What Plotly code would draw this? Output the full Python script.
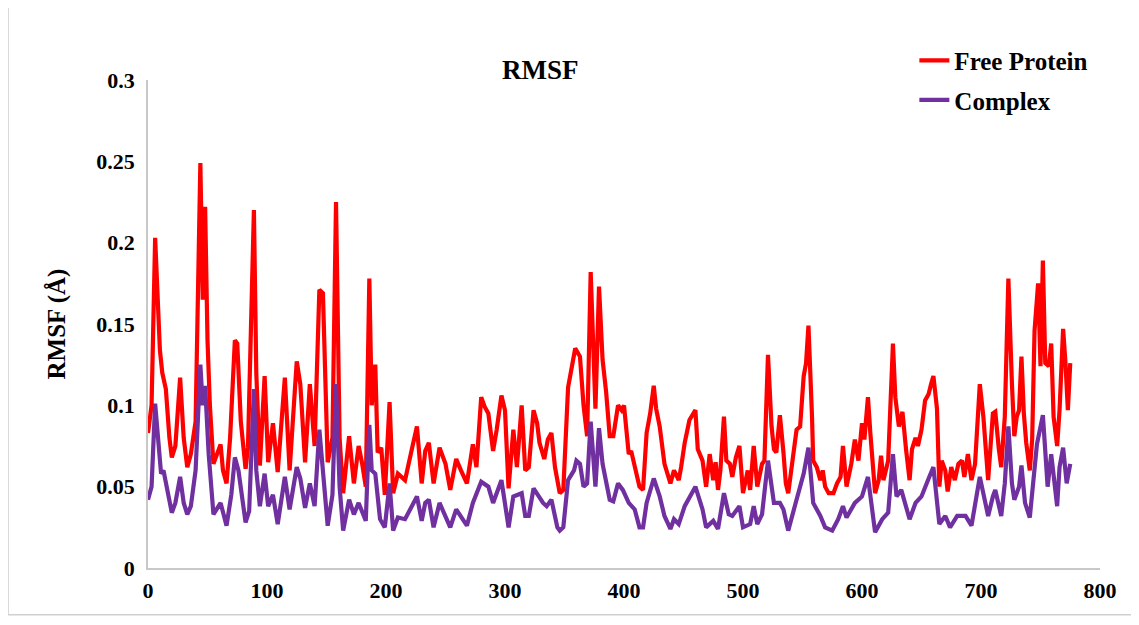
import plotly.graph_objects as go

# ---- data ----
free_res = [0, 3, 6, 8, 10, 12, 15, 18, 20, 23, 27, 30, 33, 36, 40, 44, 46, 48, 50, 52, 55, 58, 61, 63, 66, 69, 73, 75, 78, 82,
            84, 89, 91, 94, 98, 101, 105, 109, 115, 119, 125, 128, 132, 136, 140, 144, 147, 151, 155, 158, 161, 164, 169, 173,
            177, 180, 183, 186, 188, 191, 193, 196, 199, 203, 206, 210, 216, 222, 226, 230, 233, 236, 240, 245, 250, 254, 259,
            263, 268, 273, 276, 280, 283, 286, 290, 293, 297, 300, 303, 307, 310, 314, 317, 320, 324, 327, 329, 333, 336, 339,
            342, 346, 349, 353, 356, 359, 363, 366, 369, 372, 376, 379, 382, 385, 388, 391, 395, 398, 400, 402, 404, 406, 409,
            413, 416, 419, 422, 425, 427, 430, 434, 439, 442, 446, 448, 451, 455, 460, 462, 466, 469, 472, 475, 477, 479, 481,
            484, 486, 489, 491, 494, 497, 500, 504, 506, 509, 512, 516, 518, 521, 524, 526, 528, 531, 534, 536, 538, 541, 545,
            548, 551, 553, 555, 558, 559, 562, 565, 567, 569, 572, 576, 579, 582, 584, 587, 591, 594, 597, 600, 602, 605, 607,
            611, 614, 616, 618, 622, 626, 628, 631, 634, 637, 640, 642, 645, 647, 650, 653, 656, 658, 660, 663, 665, 667, 670,
            672, 675, 678, 681, 684, 686, 689, 692, 695, 699, 702, 704, 706, 710, 712, 715, 717, 720, 723, 726, 728, 730, 732,
            734, 736, 738, 741, 743, 745, 748, 750, 752, 754, 757, 759, 761, 764, 766, 769, 771, 773, 775]
free_rmsf = [0.083, 0.10, 0.203, 0.16, 0.134, 0.12, 0.11, 0.08, 0.068, 0.075, 0.117, 0.08, 0.062, 0.07, 0.09, 0.249, 0.165,
             0.222, 0.14, 0.10, 0.064, 0.07, 0.076, 0.06, 0.052, 0.08, 0.14, 0.138, 0.09, 0.061, 0.074, 0.22, 0.12, 0.063,
             0.118, 0.065, 0.089, 0.059, 0.117, 0.06, 0.127, 0.113, 0.065, 0.113, 0.075, 0.171, 0.169, 0.065, 0.08, 0.225,
             0.08, 0.046, 0.081, 0.052, 0.075, 0.064, 0.05, 0.178, 0.10, 0.125, 0.071, 0.074, 0.045, 0.102, 0.046, 0.058,
             0.054, 0.074, 0.087, 0.052, 0.072, 0.077, 0.052, 0.074, 0.064, 0.048, 0.067, 0.06, 0.052, 0.076, 0.062, 0.105,
             0.099, 0.095, 0.072, 0.085, 0.106, 0.097, 0.049, 0.085, 0.062, 0.10, 0.06, 0.062, 0.097, 0.089, 0.077, 0.067,
             0.079, 0.083, 0.062, 0.046, 0.048, 0.111, 0.124, 0.135, 0.13, 0.10, 0.081, 0.182, 0.098, 0.173, 0.128, 0.108,
             0.081, 0.081, 0.10, 0.097, 0.10, 0.087, 0.07, 0.072, 0.062, 0.05, 0.048, 0.083, 0.095, 0.112, 0.098, 0.087,
             0.064, 0.052, 0.06, 0.054, 0.062, 0.077, 0.091, 0.097, 0.073, 0.066, 0.05, 0.07, 0.054, 0.065, 0.048, 0.06,
             0.093, 0.066, 0.064, 0.056, 0.068, 0.075, 0.046, 0.06, 0.048, 0.075, 0.05, 0.064, 0.066, 0.131, 0.087, 0.073,
             0.071, 0.094, 0.071, 0.052, 0.046, 0.062, 0.085, 0.087, 0.118, 0.126, 0.149, 0.093, 0.066, 0.062, 0.054, 0.06,
             0.05, 0.046, 0.046, 0.052, 0.056, 0.075, 0.05, 0.064, 0.079, 0.066, 0.089, 0.079, 0.105, 0.083, 0.046, 0.054,
             0.069, 0.054, 0.066, 0.138, 0.105, 0.087, 0.096, 0.073, 0.054, 0.073, 0.08, 0.075, 0.085, 0.103, 0.107, 0.113,
             0.118, 0.098, 0.05, 0.066, 0.06, 0.047, 0.062, 0.054, 0.064, 0.066, 0.056, 0.07, 0.054, 0.064, 0.113, 0.093,
             0.075, 0.054, 0.095, 0.096, 0.073, 0.062, 0.093, 0.178, 0.113, 0.081, 0.093, 0.097, 0.13, 0.095, 0.077, 0.06,
             0.079, 0.146, 0.175, 0.124, 0.189, 0.126, 0.124, 0.138, 0.093, 0.075, 0.097, 0.147, 0.126, 0.097, 0.126]

cplx_res = [0, 3, 6, 9, 11, 13, 16, 20, 23, 27, 30, 33, 36, 40, 44, 46, 48, 51, 55, 61, 66, 70, 73, 76, 82, 85, 89, 91, 94,
            98, 101, 105, 109, 115, 119, 125, 128, 132, 136, 140, 144, 148, 151, 155, 158, 161, 164, 169, 173, 177, 183, 186,
            188, 191, 195, 199, 203, 206, 210, 216, 222, 226, 230, 233, 236, 240, 245, 254, 259, 268, 273, 280, 286, 290, 297,
            303, 307, 314, 317, 320, 324, 328, 332, 335, 339, 344, 346, 349, 353, 358, 360, 363, 366, 369, 372, 376, 379, 382,
            386, 388, 391, 395, 399, 404, 409, 413, 416, 419, 425, 430, 434, 439, 442, 446, 451, 460, 466, 469, 475, 477, 479,
            484, 488, 491, 497, 500, 506, 509, 512, 516, 521, 526, 531, 534, 538, 545, 551, 555, 559, 565, 569, 575, 580, 584,
            587, 594, 600, 605, 607, 611, 617, 622, 626, 629, 633, 636, 640, 645, 650, 656, 660, 665, 670, 674, 680, 687, 692,
            699, 704, 706, 710, 712, 717, 720, 723, 726, 728, 732, 734, 737, 741, 744, 747, 752, 754, 756, 759, 764, 766, 769,
            772, 775]
cplx_rmsf = [0.042, 0.05, 0.101, 0.075, 0.058, 0.06, 0.05, 0.034, 0.04, 0.056, 0.04, 0.033, 0.038, 0.06, 0.125, 0.10, 0.112,
             0.07, 0.033, 0.04, 0.026, 0.045, 0.068, 0.06, 0.028, 0.035, 0.11, 0.06, 0.038, 0.058, 0.038, 0.045, 0.027, 0.056,
             0.036, 0.062, 0.055, 0.037, 0.052, 0.038, 0.085, 0.05, 0.026, 0.045, 0.113, 0.05, 0.023, 0.042, 0.033, 0.04,
             0.029, 0.088, 0.06, 0.058, 0.03, 0.025, 0.052, 0.023, 0.031, 0.03, 0.038, 0.044, 0.029, 0.04, 0.042, 0.025,
             0.04, 0.025, 0.036, 0.026, 0.04, 0.053, 0.05, 0.04, 0.054, 0.025, 0.044, 0.046, 0.032, 0.032, 0.049, 0.044,
             0.04, 0.038, 0.042, 0.025, 0.023, 0.025, 0.054, 0.06, 0.066, 0.064, 0.05, 0.052, 0.09, 0.05, 0.086, 0.064,
             0.048, 0.042, 0.041, 0.052, 0.048, 0.04, 0.036, 0.025, 0.025, 0.04, 0.055, 0.044, 0.032, 0.024, 0.03, 0.027,
             0.038, 0.05, 0.036, 0.025, 0.029, 0.027, 0.024, 0.046, 0.033, 0.032, 0.038, 0.025, 0.027, 0.038, 0.027, 0.033,
             0.066, 0.04, 0.04, 0.036, 0.023, 0.042, 0.058, 0.074, 0.04, 0.032, 0.025, 0.023, 0.03, 0.038, 0.031, 0.04,
             0.044, 0.056, 0.044, 0.022, 0.03, 0.034, 0.07, 0.044, 0.048, 0.04, 0.03, 0.04, 0.044, 0.055, 0.062, 0.027,
             0.032, 0.025, 0.032, 0.032, 0.026, 0.056, 0.04, 0.032, 0.044, 0.048, 0.032, 0.052, 0.087, 0.052, 0.042, 0.05,
             0.063, 0.04, 0.031, 0.052, 0.076, 0.094, 0.072, 0.05, 0.07, 0.038, 0.062, 0.074, 0.052, 0.064]

series_names = ["Free Protein", "Complex"]
series_colors = ["#FF0000", "#7030A0"]
x_ticks = [0, 100, 200, 300, 400, 500, 600, 700, 800]
y_ticks = [0, 0.05, 0.1, 0.15, 0.2, 0.25, 0.3]
y_tick_labels = ["0", "0.05", "0.1", "0.15", "0.2", "0.25", "0.3"]

FONT = "Liberation Serif, Times New Roman, serif"

fig = go.Figure()
fig.add_trace(go.Scatter(x=free_res, y=free_rmsf, mode="lines", name=series_names[0],
                         line=dict(color=series_colors[0], width=4.2), legendgroup="a"))
fig.add_trace(go.Scatter(x=cplx_res, y=cplx_rmsf, mode="lines", name=series_names[1],
                         line=dict(color=series_colors[1], width=4.2), legendgroup="b"))

fig.update_layout(
    width=1139, height=625,
    margin=dict(l=140, r=47, t=72, b=65),
    paper_bgcolor="white", plot_bgcolor="white",
    font=dict(family=FONT, color="black", size=22),
    legend=dict(x=0.805, y=1.087, xanchor="left", yanchor="top",
                font=dict(family=FONT, size=25, weight="bold", color="black"),
                traceorder="grouped", tracegroupgap=4, bgcolor="rgba(0,0,0,0)"),
    annotations=[
        dict(text="RMSF", x=0.412, y=1.02, xref="paper", yref="paper", showarrow=False,
             xanchor="center", yanchor="middle",
             font=dict(family=FONT, size=27, weight="bold", color="black")),
    ],
    shapes=[
        dict(type="rect", xref="paper", yref="paper", x0=-0.147, x1=1.07, y0=-0.096, y1=1.3,
             line=dict(color="#D0D0D0", width=1.5), fillcolor="rgba(0,0,0,0)", layer="below"),
    ],
)

fig.update_xaxes(range=[0, 800], tickvals=x_ticks, showgrid=False, zeroline=False,
                 showline=True, linecolor="#C8C8C8", linewidth=1.5, ticks="",
                 ticklabelstandoff=2,
                 tickfont=dict(family=FONT, size=22, weight="bold", color="black"))
fig.update_yaxes(range=[0, 0.3], tickvals=y_ticks, ticktext=y_tick_labels, showgrid=False, zeroline=False,
                 showline=True, linecolor="#C8C8C8", linewidth=1.5, ticks="",
                 ticklabelstandoff=7,
                 tickfont=dict(family=FONT, size=22, weight="bold", color="black"),
                 title=dict(text="RMSF (Å)", standoff=24,
                            font=dict(family=FONT, size=25, weight="bold", color="black")))

fig.write_html("out.html")
